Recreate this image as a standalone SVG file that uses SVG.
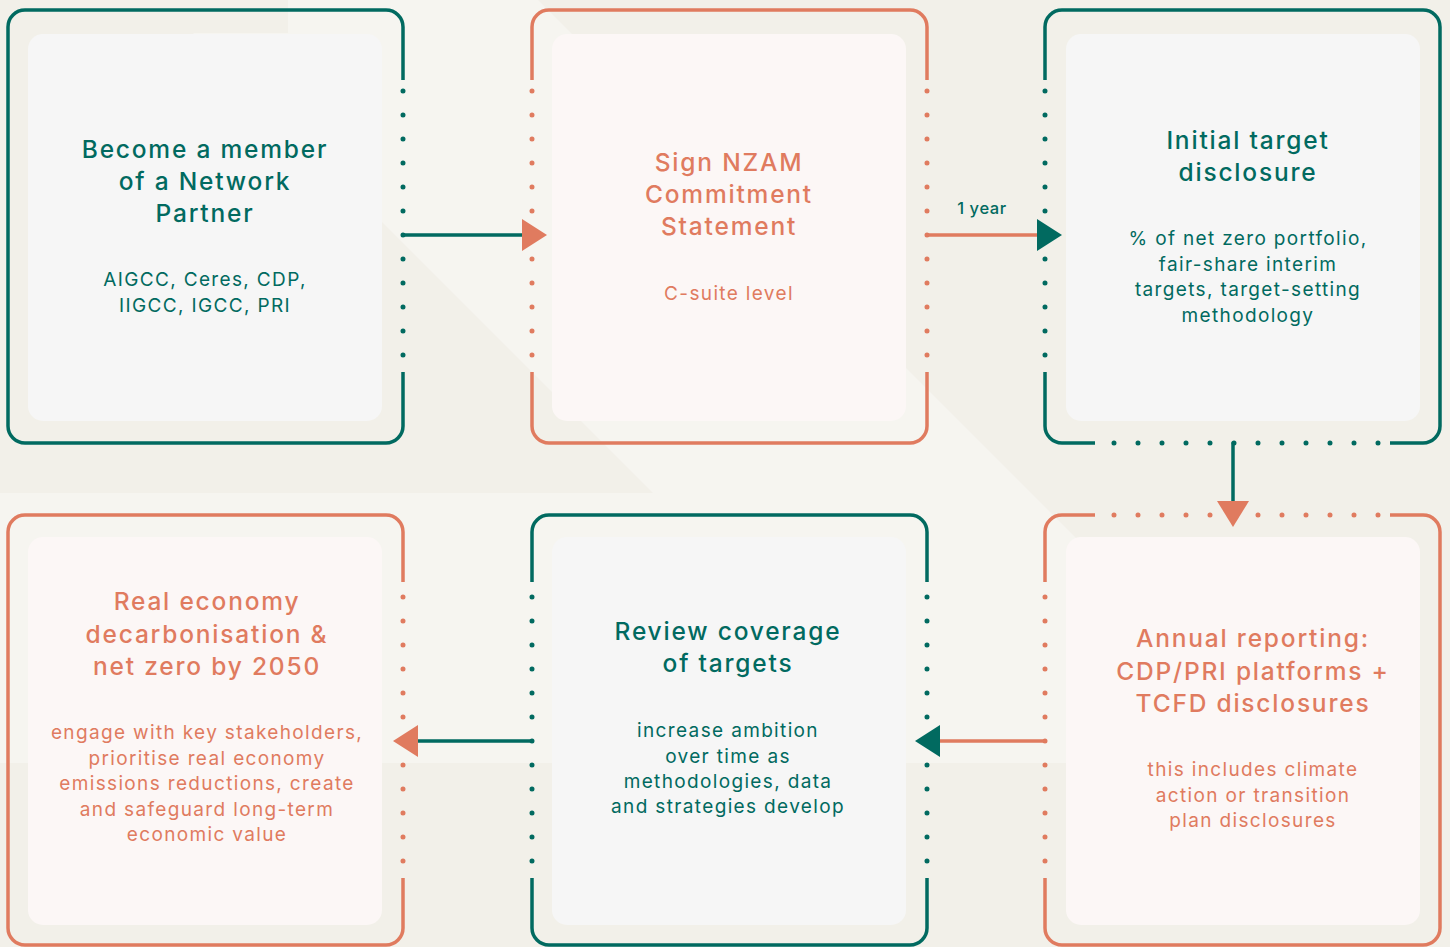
<svg xmlns="http://www.w3.org/2000/svg" width="1450" height="947" viewBox="0 0 1450 947">
<style>
.bgd{fill:#F2F0E9}
.ft{fill:none;stroke:#016A60;stroke-width:3.5;stroke-linecap:butt}
.fo{fill:none;stroke:#E07B5F;stroke-width:3.5;stroke-linecap:butt}
.dt{stroke:#016A60;stroke-width:5;stroke-linecap:round;stroke-dasharray:0 24;fill:none}
.do{stroke:#E07B5F;stroke-width:5;stroke-linecap:round;stroke-dasharray:0 24;fill:none}
.pt{fill:#F6F6F6}
.po{fill:#FCF7F6}
.lt{stroke:#016A60;stroke-width:3.5;stroke-linecap:round}
.lo{stroke:#E07B5F;stroke-width:3.5;stroke-linecap:round}
.at{fill:#016A60}
.ao{fill:#E07B5F}
text{font-family:Inter,"Open Sans","Liberation Sans",sans-serif;text-anchor:middle}
.h{font-size:24.5px;font-weight:550;letter-spacing:1.8px}
.b{font-size:19px;font-weight:400;letter-spacing:1.35px}
.tt{fill:#016A60}
.to{fill:#E07B5F}
</style>
<rect width="1450" height="947" fill="#F6F5F0"/>
<g id="background">
<polygon class="bgd" points="0,0 160,0 653,493 0,493"/>
<rect class="bgd" x="0" y="0" width="288" height="33"/>
<polygon class="bgd" points="538,0 1450,0 1450,912"/>
<rect class="bgd" x="0" y="763" width="1450" height="184"/>
</g>
<g id="node-member">
<rect class="pt" x="28" y="34" width="354" height="387" rx="15"/>
<path class="ft" d="M403,80 L403,27 A17,17 0 0 0 386,10 L25,10 A17,17 0 0 0 8,27 L8,426 A17,17 0 0 0 25,443 L386,443 A17,17 0 0 0 403,426 L403,372"/>
<line class="dt" x1="403" y1="91" x2="403" y2="356"/>
<text class="h tt"><tspan x="205" y="158">Become a member</tspan><tspan x="205" y="190">of a Network</tspan><tspan x="205" y="222">Partner</tspan></text>
<text class="b tt"><tspan x="205" y="286">AIGCC, Ceres, CDP,</tspan><tspan x="205" y="312">IIGCC, IGCC, PRI</tspan></text>
</g>
<g id="node-sign">
<rect class="po" x="552" y="34" width="354" height="387" rx="15"/>
<path class="fo" d="M532,80 L532,27 A17,17 0 0 1 549,10 L910,10 A17,17 0 0 1 927,27 L927,80"/>
<path class="fo" d="M532,372 L532,426 A17,17 0 0 0 549,443 L910,443 A17,17 0 0 0 927,426 L927,372"/>
<line class="do" x1="532" y1="91" x2="532" y2="356"/>
<line class="do" x1="927" y1="91" x2="927" y2="356"/>
<text class="h to"><tspan x="729" y="171">Sign NZAM</tspan><tspan x="729" y="203">Commitment</tspan><tspan x="729" y="235">Statement</tspan></text>
<text class="b to"><tspan x="729" y="300">C-suite level</tspan></text>
</g>
<g id="node-initial">
<rect class="pt" x="1066" y="34" width="354" height="387" rx="15"/>
<path class="ft" d="M1045,80 L1045,27 A17,17 0 0 1 1062,10 L1423,10 A17,17 0 0 1 1440,27 L1440,426 A17,17 0 0 1 1423,443 L1390,443"/>
<path class="ft" d="M1045,372 L1045,426 A17,17 0 0 0 1062,443 L1095,443"/>
<line class="dt" x1="1045" y1="91" x2="1045" y2="356"/>
<line class="dt" x1="1114" y1="443" x2="1379" y2="443"/>
<text class="h tt"><tspan x="1248" y="149">Initial target</tspan><tspan x="1248" y="181">disclosure</tspan></text>
<text class="b tt"><tspan x="1248" y="245">% of net zero portfolio,</tspan><tspan x="1248" y="271">fair-share interim</tspan><tspan x="1248" y="296">targets, target-setting</tspan><tspan x="1248" y="322">methodology</tspan></text>
</g>
<g id="node-real">
<rect class="po" x="28" y="537" width="354" height="388" rx="15"/>
<path class="fo" d="M403,582 L403,532 A17,17 0 0 0 386,515 L25,515 A17,17 0 0 0 8,532 L8,928 A17,17 0 0 0 25,945 L386,945 A17,17 0 0 0 403,928 L403,878"/>
<line class="do" x1="403" y1="597" x2="403" y2="862"/>
<text class="h to"><tspan x="207" y="610">Real economy</tspan><tspan x="207" y="643">decarbonisation &amp;</tspan><tspan x="207" y="675">net zero by 2050</tspan></text>
<text class="b to"><tspan x="207" y="739">engage with key stakeholders,</tspan><tspan x="207" y="765">prioritise real economy</tspan><tspan x="207" y="790">emissions reductions, create</tspan><tspan x="207" y="816">and safeguard long-term</tspan><tspan x="207" y="841">economic value</tspan></text>
</g>
<g id="node-review">
<rect class="pt" x="552" y="537" width="354" height="388" rx="15"/>
<path class="ft" d="M532,582 L532,532 A17,17 0 0 1 549,515 L910,515 A17,17 0 0 1 927,532 L927,582"/>
<path class="ft" d="M532,878 L532,928 A17,17 0 0 0 549,945 L910,945 A17,17 0 0 0 927,928 L927,878"/>
<line class="dt" x1="532" y1="597" x2="532" y2="862"/>
<line class="dt" x1="927" y1="597" x2="927" y2="862"/>
<text class="h tt"><tspan x="728" y="640">Review coverage</tspan><tspan x="728" y="672">of targets</tspan></text>
<text class="b tt"><tspan x="728" y="737">increase ambition</tspan><tspan x="728" y="763">over time as</tspan><tspan x="728" y="788">methodologies, data</tspan><tspan x="728" y="813">and strategies develop</tspan></text>
</g>
<g id="node-annual">
<rect class="po" x="1066" y="537" width="354" height="388" rx="15"/>
<path class="fo" d="M1095,515 L1062,515 A17,17 0 0 0 1045,532 L1045,582"/>
<path class="fo" d="M1390,515 L1423,515 A17,17 0 0 1 1440,532 L1440,928 A17,17 0 0 1 1423,945 L1062,945 A17,17 0 0 1 1045,928 L1045,878"/>
<line class="do" x1="1114" y1="515" x2="1379" y2="515"/>
<line class="do" x1="1045" y1="597" x2="1045" y2="862"/>
<text class="h to"><tspan x="1253" y="647">Annual reporting:</tspan><tspan x="1253" y="680">CDP/PRI platforms +</tspan><tspan x="1253" y="712">TCFD disclosures</tspan></text>
<text class="b to"><tspan x="1253" y="776">this includes climate</tspan><tspan x="1253" y="802">action or transition</tspan><tspan x="1253" y="827">plan disclosures</tspan></text>
</g>
<g id="connectors">
<line class="lt" x1="403" y1="235" x2="524" y2="235"/>
<polygon class="ao" points="522,219 547,235 522,251"/>
<line class="lo" x1="927" y1="235" x2="1039" y2="235"/>
<polygon class="at" points="1037,219 1062,235 1037,251"/>
<text x="982" y="214" style="font-size:16.5px;font-weight:550;letter-spacing:0.6px" class="tt">1 year</text>
<line class="lt" x1="1233" y1="443" x2="1233" y2="503"/>
<polygon class="ao" points="1217,501 1249,501 1233,527"/>
<line class="lo" x1="1045" y1="741" x2="938" y2="741"/>
<polygon class="at" points="940,725 915,741 940,757"/>
<line class="lt" x1="532" y1="741" x2="416" y2="741"/>
<polygon class="ao" points="418,725 393,741 418,757"/>
</g>
</svg>
